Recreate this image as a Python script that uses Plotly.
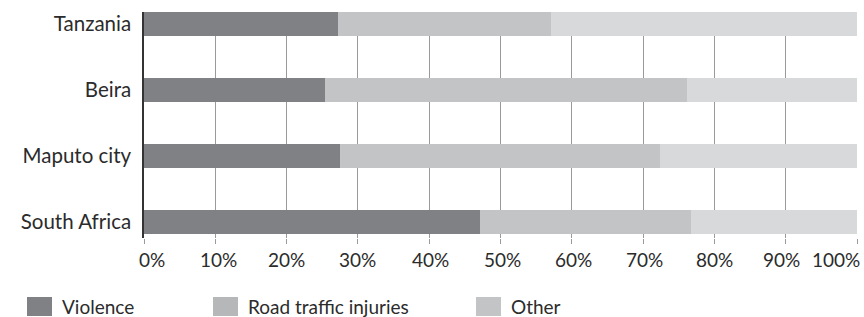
import plotly.graph_objects as go

categories = ["South Africa", "Maputo city", "Beira", "Tanzania"]
violence = [47.1, 27.5, 25.4, 27.2]
road = [29.6, 44.9, 50.8, 29.9]
other = [23.3, 27.6, 23.8, 42.9]
series_names = ["Violence", "Road traffic injuries", "Other"]
tick_vals = [0, 10, 20, 30, 40, 50, 60, 70, 80, 90, 100]
tick_text = ["0%", "10%", "20%", "30%", "40%", "50%", "60%", "70%", "80%", "90%", "100%"]
tick_shift = [8, 3, 0, 0, 1, 2, 2, 1, 0, -4, -21]

bar_colors = ["#808184", "#c3c4c6", "#d8d9db"]
legend_colors = ["#808184", "#b6b7b9", "#c3c4c6"]
FONT = "Lato"
TXT = "#2b2b2b"

L, R, T, B = 144, 7, 12, 79
PW, PH = 864 - L - R, 317 - T - B


def px_x(p):
    return (p - L) / PW


def px_y(p):
    return (317 - B - p) / PH


fig = go.Figure()
for name, vals, col in zip(series_names, [violence, road, other], bar_colors):
    fig.add_trace(go.Bar(
        y=categories, x=vals, name=name, orientation="h",
        marker=dict(color=col, line=dict(width=0)), width=0.365,
        showlegend=False,
    ))

# tick labels as annotations (the originals are nudged to fit the frame)
for v, t, s in zip(tick_vals, tick_text, tick_shift):
    fig.add_annotation(x=v, y=px_y(259), xref="x", yref="paper", text=t,
                       showarrow=False, xanchor="center", yanchor="middle",
                       xshift=s, font=dict(family=FONT, size=19, color=TXT))

# custom legend
leg_x = [27, 213, 476]
for name, col, lx in zip(series_names, legend_colors, leg_x):
    fig.add_shape(type="rect", xref="paper", yref="paper",
                  x0=px_x(lx), x1=px_x(lx + 25),
                  y0=px_y(316), y1=px_y(297),
                  fillcolor=col, line=dict(width=0))
    fig.add_annotation(x=px_x(lx + 33), y=px_y(306), xref="paper", yref="paper",
                       text=name, showarrow=False, xanchor="left", yanchor="middle",
                       font=dict(family=FONT, size=19, color=TXT))

fig.update_layout(
    width=864, height=317,
    margin=dict(l=L, r=R, t=T, b=B, autoexpand=False),
    barmode="stack",
    plot_bgcolor="white", paper_bgcolor="white",
    font=dict(family=FONT, size=19, color=TXT),
)
fig.update_xaxes(range=[0, 100], tickvals=tick_vals, showticklabels=False,
                 showgrid=True, gridcolor="#9a9a9a", gridwidth=1,
                 ticks="outside", ticklen=5, tickcolor="#9a9a9a",
                 zeroline=False, showline=False, fixedrange=True, automargin=False)
fig.update_yaxes(range=[-0.25, 3.18], showline=True, linecolor="#333333", linewidth=1.5,
                 ticks="", showgrid=False, zeroline=False, ticklabelstandoff=7,
                 automargin=False, tickfont=dict(size=20.5, color=TXT))
fig.write_html("out.html", config={"displayModeBar": False},
               post_script="document.body.style.margin='0';")
